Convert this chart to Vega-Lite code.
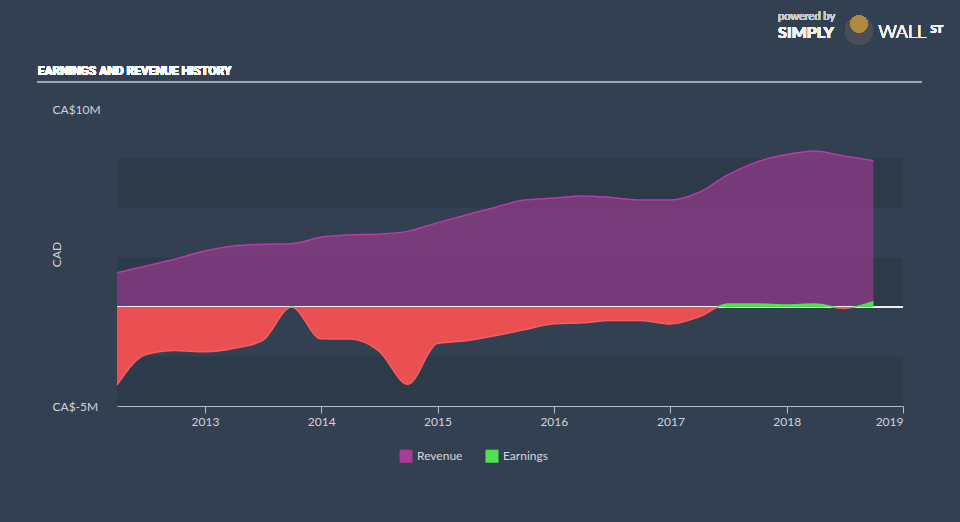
{
  "$schema": "https://vega.github.io/schema/vega-lite/v6.json",
  "width": 786,
  "height": 297,
  "autosize": {"type": "none"},
  "padding": {"left": 117, "top": 109, "right": 57, "bottom": 116},
  "background": "#334052",
  "config": {
    "view": {"stroke": null},
    "font": "Lato",
    "axis": {"grid": false}
  },
  "datasets": {
    "fin": [
      {"date": "2012-03-31", "revenue": 1.73, "earnings": -3.94},
      {"date": "2012-06-30", "revenue": 2.07, "earnings": -2.4},
      {"date": "2012-09-30", "revenue": 2.42, "earnings": -2.2},
      {"date": "2012-12-31", "revenue": 2.83, "earnings": -2.26},
      {"date": "2013-03-31", "revenue": 3.08, "earnings": -2.1},
      {"date": "2013-06-30", "revenue": 3.17, "earnings": -1.7},
      {"date": "2013-09-30", "revenue": 3.2, "earnings": 0.0},
      {"date": "2013-12-31", "revenue": 3.52, "earnings": -1.6},
      {"date": "2014-03-31", "revenue": 3.64, "earnings": -1.62},
      {"date": "2014-06-30", "revenue": 3.68, "earnings": -2.2},
      {"date": "2014-09-30", "revenue": 3.82, "earnings": -3.9},
      {"date": "2014-12-31", "revenue": 4.25, "earnings": -1.85},
      {"date": "2015-03-31", "revenue": 4.65, "earnings": -1.7},
      {"date": "2015-06-30", "revenue": 5.03, "earnings": -1.45},
      {"date": "2015-09-30", "revenue": 5.4, "earnings": -1.15},
      {"date": "2015-12-31", "revenue": 5.5, "earnings": -0.85},
      {"date": "2016-03-31", "revenue": 5.61, "earnings": -0.8},
      {"date": "2016-06-30", "revenue": 5.53, "earnings": -0.68},
      {"date": "2016-09-30", "revenue": 5.4, "earnings": -0.68},
      {"date": "2016-12-31", "revenue": 5.4, "earnings": -0.86},
      {"date": "2017-03-31", "revenue": 5.78, "earnings": -0.5},
      {"date": "2017-06-30", "revenue": 6.67, "earnings": 0.15},
      {"date": "2017-09-30", "revenue": 7.33, "earnings": 0.15},
      {"date": "2017-12-31", "revenue": 7.7, "earnings": 0.1},
      {"date": "2018-03-31", "revenue": 7.88, "earnings": 0.15},
      {"date": "2018-06-30", "revenue": 7.63, "earnings": -0.07},
      {"date": "2018-09-30", "revenue": 7.39, "earnings": 0.27}
    ],
    "bands": [
      {"lo": -5, "hi": -2.5},
      {"lo": 0, "hi": 2.5},
      {"lo": 5, "hi": 7.5}
    ]
  },
  "data": {"name": "fin"},
  "layer": [
    {
      "data": {"name": "bands"},
      "mark": {"type": "rect", "color": "#2d3a4a"},
      "encoding": {
        "y": {
          "field": "lo",
          "type": "quantitative",
          "scale": {"domain": [-5, 10], "nice": false, "zero": false},
          "axis": {
            "values": [-5, 10],
            "labelExpr": "'CA$' + datum.value + 'M'",
            "domain": false,
            "ticks": false,
            "labelAlign": "left",
            "labelBaseline": "middle",
            "labelPadding": 65,
            "labelColor": "#d0d4da",
            "labelFontSize": 12,
            "title": "CAD",
            "titleColor": "#d0d4da",
            "titleFontSize": 12,
            "titleFontWeight": "normal",
            "titleX": -61,
            "titleY": 145,
            "titleBaseline": "middle",
            "titleAngle": -90
          }
        },
        "y2": {"field": "hi"}
      }
    },
    {
      "mark": {"type": "area", "interpolate": "monotone", "opacity": 0.6},
      "encoding": {
        "x": {
          "field": "date",
          "type": "temporal",
          "scale": {"domain": [{"year": 2012, "month": 3, "date": 31}, {"year": 2019, "month": 1, "date": 1}], "nice": false},
          "axis": {
            "format": "%Y",
            "tickCount": {"interval": "year", "step": 1},
            "domainColor": "#b4bcc8",
            "tickColor": "#b4bcc8",
            "tickSize": 7,
            "labelColor": "#d0d4da",
            "labelFontSize": 12,
            "labelPadding": 3,
            "title": null
          }
        },
        "y": {"field": "revenue", "type": "quantitative"},
        "color": {
          "datum": "Revenue",
          "scale": {"domain": ["Revenue", "Earnings"], "range": ["#a93a97", "#4ee24e"]},
          "legend": {
            "orient": "none",
            "legendX": 282,
            "legendY": 340,
            "direction": "horizontal",
            "title": null,
            "symbolType": "square",
            "symbolSize": 170,
            "symbolOpacity": 1,
            "symbolStrokeWidth": 0,
            "labelColor": "#d5d9de",
            "labelFontSize": 12,
            "columnPadding": 22
          }
        }
      }
    },
    {
      "mark": {"type": "line", "interpolate": "monotone", "color": "#b63ca6", "strokeWidth": 1.5},
      "encoding": {
        "x": {"field": "date", "type": "temporal"},
        "y": {"field": "revenue", "type": "quantitative"}
      }
    },
    {
      "mark": {"type": "rule", "color": "#eeeeee", "strokeWidth": 1},
      "encoding": {"y": {"datum": 0}}
    },
    {
      "mark": {
        "type": "area",
        "interpolate": "monotone",
        "fill": {
          "gradient": "linear", "x1": 0, "y1": 0, "x2": 0, "y2": 1,
          "stops": [
            {"offset": 0, "color": "#4cdf4c"},
            {"offset": 0.064, "color": "#4cdf4c"},
            {"offset": 0.0645, "color": "#ea4f52"},
            {"offset": 1, "color": "#ea4f52"}
          ]
        }
      },
      "encoding": {
        "x": {"field": "date", "type": "temporal"},
        "y": {"field": "earnings", "type": "quantitative"},
        "y2": {"datum": 0}
      }
    },
    {
      "mark": {
        "type": "line",
        "interpolate": "monotone",
        "strokeWidth": 1.5,
        "stroke": {
          "gradient": "linear", "x1": 0, "y1": 0, "x2": 0, "y2": 1,
          "stops": [
            {"offset": 0, "color": "#52e652"},
            {"offset": 0.064, "color": "#52e652"},
            {"offset": 0.0645, "color": "#f45e5e"},
            {"offset": 1, "color": "#f45e5e"}
          ]
        }
      },
      "encoding": {
        "x": {"field": "date", "type": "temporal"},
        "y": {"field": "earnings", "type": "quantitative"}
      }
    },
    {
      "mark": {"type": "rule", "color": "#9ea7b3", "strokeWidth": 2},
      "encoding": {
        "x": {"datum": {"year": 2011, "month": 7, "date": 26}},
        "x2": {"datum": {"year": 2019, "month": 3, "date": 1}},
        "y": {"datum": 11.36}
      }
    },
    {
      "mark": {"type": "text", "text": "EARNINGS AND REVENUE HISTORY", "align": "left", "baseline": "alphabetic", "fontSize": 12, "font": "Roboto", "fontWeight": "bold", "color": "#ffffff"},
      "encoding": {
        "x": {"datum": {"year": 2011, "month": 7, "date": 26}},
        "y": {"datum": 11.72}
      }
    },
    {
      "mark": {"type": "text", "text": "powered by", "align": "left", "baseline": "alphabetic", "fontSize": 11, "color": "#c5cad1"},
      "encoding": {
        "x": {"datum": {"year": 2017, "month": 12, "date": 5}},
        "y": {"datum": 14.5}
      }
    },
    {
      "mark": {"type": "text", "text": "SIMPLY", "align": "left", "baseline": "alphabetic", "fontSize": 16, "fontWeight": "bold", "color": "#f2f2f2"},
      "encoding": {
        "x": {"datum": {"year": 2017, "month": 12, "date": 5}},
        "y": {"datum": 13.6}
      }
    },
    {
      "mark": {"type": "point", "filled": true, "shape": "circle", "size": 800, "color": "#4a4f57", "opacity": 1},
      "encoding": {
        "x": {"datum": {"year": 2018, "month": 8, "date": 16}},
        "y": {"datum": 13.95}
      }
    },
    {
      "mark": {"type": "point", "filled": true, "shape": "circle", "size": 300, "color": "#b08a3e", "opacity": 1},
      "encoding": {
        "x": {"datum": {"year": 2018, "month": 8, "date": 16}},
        "y": {"datum": 14.3}
      }
    },
    {
      "mark": {"type": "text", "text": "WALL", "align": "left", "baseline": "alphabetic", "fontSize": 18, "fontWeight": 300, "color": "#f2f2f2"},
      "encoding": {
        "x": {"datum": {"year": 2018, "month": 10, "date": 16}},
        "y": {"datum": 13.6}
      }
    },
    {
      "mark": {"type": "text", "text": "ST", "align": "left", "baseline": "alphabetic", "fontSize": 11, "fontWeight": "bold", "color": "#f2f2f2"},
      "encoding": {
        "x": {"datum": {"year": 2019, "month": 3, "date": 28}},
        "y": {"datum": 13.85}
      }
    }
  ]
}
